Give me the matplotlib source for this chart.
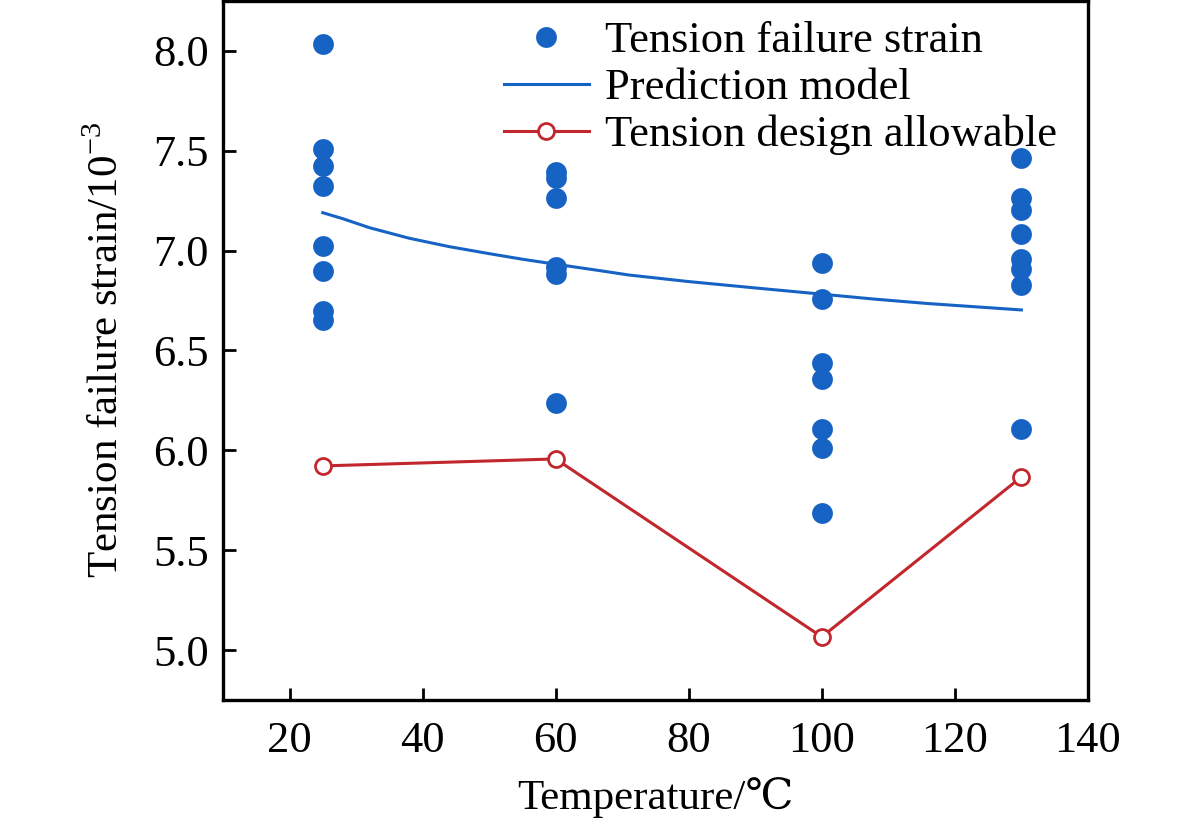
import matplotlib
matplotlib.use("Agg")
import matplotlib.pyplot as plt

# ---- data ----
T_25 = [8.037, 7.511, 7.424, 7.324, 7.024, 6.899, 6.699, 6.652]
T_60 = [7.396, 7.366, 7.265, 6.920, 6.882, 6.239]
T_100 = [6.940, 6.757, 6.439, 6.356, 6.106, 6.014, 5.688]
T_130 = [7.463, 7.262, 7.202, 7.085, 6.957, 6.907, 6.828, 6.106]

pred_T = [25, 28, 32, 38, 44, 50, 55, 60, 66, 71, 80, 91, 100, 108, 116, 123, 130]
pred_v = [7.19, 7.16, 7.115, 7.062, 7.02, 6.985, 6.957, 6.932, 6.903, 6.878,
          6.845, 6.810, 6.782, 6.757, 6.735, 6.719, 6.703]

allow_T = [25, 60, 100, 130]
allow_v = [5.922, 5.957, 5.066, 5.867]

xticks = [20, 40, 60, 80, 100, 120, 140]
yticks = [5.0, 5.5, 6.0, 6.5, 7.0, 7.5, 8.0]

BLUE = "#1763c4"
RED = "#c1272d"

plt.rcParams['font.family'] = ['Liberation Serif', 'DejaVu Serif']
plt.rcParams['mathtext.fontset'] = 'custom'
plt.rcParams['mathtext.rm'] = 'Liberation Serif'

fig = plt.figure(figsize=(11.81, 8.24), dpi=100)
ax = fig.add_axes([0.1888, 0.1505, 0.7324, 0.8483])

xs, ys = [], []
for t, vals in [(25, T_25), (60, T_60), (100, T_100), (130, T_130)]:
    xs += [t] * len(vals)
    ys += vals
ax.plot(xs, ys, linestyle='none', marker='o', markersize=15, color=BLUE,
        markeredgewidth=0, label='Tension failure strain', zorder=3)
ax.plot(pred_T, pred_v, color=BLUE, linewidth=2.2, label='Prediction model', zorder=2)
ax.plot(allow_T, allow_v, color=RED, linewidth=2.2, marker='o', markersize=11.5,
        markerfacecolor='white', markeredgecolor=RED, markeredgewidth=2.0,
        label='Tension design allowable', zorder=4)

ax.set_xlim(10, 140)
ax.set_ylim(4.75, 8.25)
ax.set_xticks(xticks)
ax.set_yticks(yticks)
ax.set_yticklabels([f"{v:.1f}" for v in yticks])
ax.set_xticklabels([str(v) for v in xticks])
ax.tick_params(direction='in', length=9, width=2, labelsize=32, pad=10,
               top=False, right=False)
ax.tick_params(axis='x', pad=15)
for s in ax.spines.values():
    s.set_linewidth(2.4)

ax.set_xlabel('Temperature/℃', fontsize=31, labelpad=12)
ax.set_ylabel('Tension failure strain/$10^{-3}$', fontsize=31, labelpad=19)

leg = ax.legend(loc='upper left', bbox_to_anchor=(0.325, 0.971), frameon=False,
                fontsize=32, borderpad=0, borderaxespad=0, labelspacing=0.15,
                handlelength=1.9, handletextpad=0.36, numpoints=1)

fig.savefig('out.png', dpi=100)
